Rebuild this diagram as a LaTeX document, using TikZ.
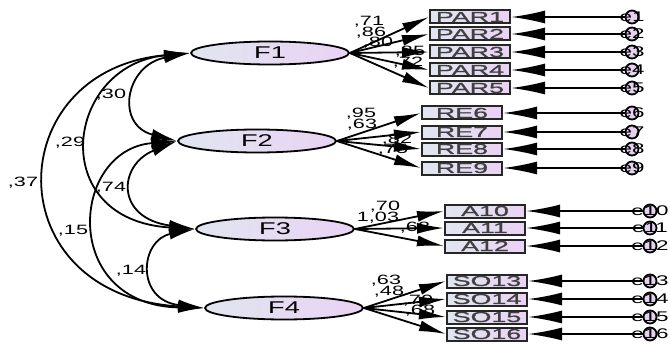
\documentclass[tikz,border=0pt]{standalone}
\usepackage{fontspec}
\setmainfont{Liberation Sans}[FakeStretch=1.6]
\newfontfamily\boxfont{Liberation Sans}[FakeStretch=1.85,FakeBold=1.2]
\usetikzlibrary{arrows.meta,shapes.geometric}
\definecolor{shadeL}{RGB}{224,230,240}
\definecolor{shadeR}{RGB}{234,210,244}
\definecolor{errfill}{RGB}{228,210,238}

\begin{document}
\begin{tikzpicture}[x=1pt,y=-1pt,line width=1.8pt]
    \tikzstyle{factor}=[ellipse,draw,left color=shadeL,right color=shadeR,minimum width=158pt,minimum height=23pt,inner sep=0pt,font=\fontsize{17}{17}\selectfont]
    \tikzstyle{indicator}=[rectangle,draw=black!85,line width=2pt,left color=shadeL,right color=shadeR,minimum width=80pt,minimum height=13pt,inner sep=0pt,text=black!75,font=\boxfont\fontsize{14.5}{14.5}\selectfont]
    \tikzstyle{error}=[circle,draw,fill=errfill,minimum size=13pt,inner sep=0pt]
    \tikzstyle{errtext}=[inner sep=0pt,font=\fontsize{14}{14}\selectfont]
    \tikzstyle{coef}=[inner sep=0pt,font=\fontsize{13.5}{13.5}\selectfont]
    \tikzstyle{load}=[-{Latex[length=27pt,width=11pt]}]
    \tikzstyle{resid}=[-{Latex[length=34pt,width=13pt]}]
    \tikzstyle{corr}=[{Latex[length=26pt,width=11pt]}-{Latex[length=26pt,width=11pt]}]

    \useasboundingbox (0,0) rectangle (670,345);

    % latent factors
    \node[factor] (F1) at (270,53) {F1};
    \node[factor] (F2) at (257,141) {F2};
    \node[factor] (F3) at (275,229) {F3};
    \node[factor] (F4) at (284,308) {F4};

    % observed items with their errors
    \foreach \i/\y in {1/17,2/34,3/52,4/70,5/88}{
        \node[indicator] (PAR\i) at (470,\y) {PAR\i};
        \node[error,label={[errtext]center:e\i}] (e\i) at (632,\y) {};
        \draw[resid] (e\i.west) -- (PAR\i.east);
    }
    \foreach \i/\y in {6/113,7/132,8/149,9/168}{
        \node[indicator] (RE\i) at (462,\y) {RE\i};
        \node[error,label={[errtext]center:e\i}] (e\i) at (632,\y) {};
        \draw[resid] (e\i.west) -- (RE\i.east);
    }
    \foreach \i/\y in {10/211,11/228,12/246}{
        \node[indicator] (A\i) at (485,\y) {A\i};
        \node[error,label={[errtext]center:e\i}] (e\i) at (650,\y) {};
        \draw[resid] (e\i.west) -- (A\i.east);
    }
    \foreach \i/\y in {13/281,14/299,15/317,16/334}{
        \node[indicator] (SO\i) at (487,\y) {SO\i};
        \node[error,label={[errtext]center:e\i}] (e\i) at (650,\y) {};
        \draw[resid] (e\i.west) -- (SO\i.east);
    }

    % loadings (under the arrows)
    \node[coef] (l1) at (369,22) {,71};
    \node[coef] (l2) at (371,33) {,86};
    \node[coef] (l3) at (378,43) {,80};
    \node[coef] (l4) at (410,52) {,85};
    \node[coef] (l5) at (408,63) {,72};
    \node[coef] (l6) at (361,114) {,95};
    \node[coef] (l7) at (362,125) {,63};
    \node[coef] (l8) at (397,140) {,82};
    \node[coef] (l9) at (393,150) {,75};
    \node[coef] (l10) at (385,207) {,70};
    \node[coef] (l11) at (378,218) {1,03};
    \node[coef] (l12) at (415,228) {,68};
    \node[coef] (l13) at (386,281) {,63};
    \node[coef] (l14) at (389,292) {,48};
    \node[coef] (l15) at (418,301) {,70};
    \node[coef] (l16) at (420,311) {,68};

    \foreach \i in {1,...,5} \draw[load] (F1.east) -- (PAR\i.west);
    \foreach \i in {6,...,9} \draw[load] (F2.east) -- (RE\i.west);
    \foreach \i in {10,11,12} \draw[load] (F3.east) -- (A\i.west);
    \foreach \i in {13,...,16} \draw[load] (F4.east) -- (SO\i.west);

    % covariances
    \draw[corr] (F1.west) .. controls (125,65) and (115,125) .. (F2.west);
    \draw[corr] (F1.west) .. controls (65,65) and (45,220) .. (F3.west);
    \draw[corr] (F1.west) .. controls (0,70) and (-5,295) .. (F4.west);
    \draw[corr] (F2.west) .. controls (118,165) and (115,218) .. (F3.west);
    \draw[corr] (F2.west) .. controls (70,150) and (60,305) .. (F4.west);
    \draw[corr] (F3.west) .. controls (140,240) and (135,300) .. (F4.west);

    \node[coef] (c12) at (111,95) {,30};
    \node[coef] (c13) at (70,143) {,29};
    \node[coef] (c14) at (23,183) {,37};
    \node[coef] (c23) at (111,188) {,74};
    \node[coef] (c24) at (73,231) {,15};
    \node[coef] (c34) at (131,271) {,14};
\end{tikzpicture}
\end{document}
